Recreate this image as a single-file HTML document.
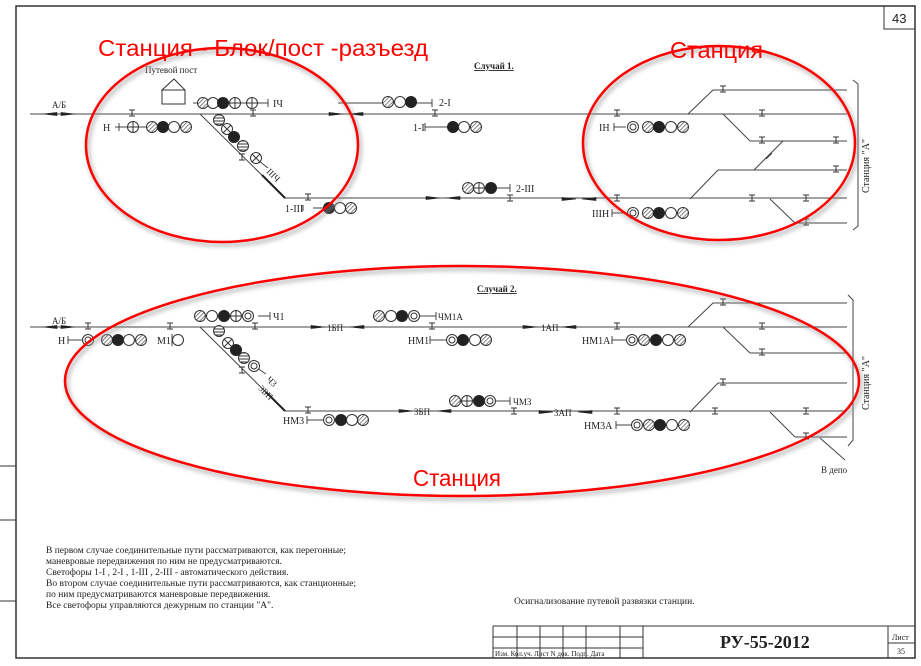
<!DOCTYPE html>
<html><head><meta charset="utf-8"><style>
html,body{margin:0;padding:0;background:#fff}
svg{display:block}
text{font-family:"Liberation Serif",serif;fill:#222}
.r{font-family:"Liberation Sans","DejaVu Sans",sans-serif;fill:#f00}
</style></head><body>
<svg width="921" height="666" viewBox="0 0 921 666" xmlns="http://www.w3.org/2000/svg">
<defs>
<pattern id="hp" width="3" height="3" patternUnits="userSpaceOnUse" patternTransform="rotate(45)"><rect width="3" height="3" fill="#fff"/><line x1="0" y1="0" x2="0" y2="3" stroke="#333" stroke-width="1.2"/></pattern>
<pattern id="sp" width="3" height="3" patternUnits="userSpaceOnUse"><rect width="3" height="3" fill="#fff"/><line x1="0" y1="1" x2="3" y2="1" stroke="#333" stroke-width="1"/></pattern>
<g id="h"><circle r="5.5" fill="url(#hp)" stroke="#333"/></g>
<g id="w"><circle r="5.5" fill="#fff" stroke="#333"/></g>
<g id="b"><circle r="5.5" fill="#222" stroke="#222"/></g>
<g id="p"><circle r="5.5" fill="#fff" stroke="#333"/><path d="M-5.5 0H5.5M0 -5.5V5.5" stroke="#333"/></g>
<g id="x"><circle r="5.5" fill="#fff" stroke="#333"/><path d="M-3.9 -3.9L3.9 3.9M-3.9 3.9L3.9 -3.9" stroke="#333"/></g>
<g id="d"><circle r="5.5" fill="#fff" stroke="#333"/><circle r="3" fill="#fff" stroke="#333"/></g>
<g id="s"><circle r="5.5" fill="url(#sp)" stroke="#333"/></g>
<g id="t"><path d="M-3 -4H3M0 -4V2M-3 2H3" stroke="#333" fill="none"/></g>
<g id="ar"><path d="M-14 0L0 0L-14 -1.6Z M-14 0L0 0L-14 1.6Z" fill="#222" stroke="#222" stroke-width="0.6"/></g>
<g id="al"><path d="M14 0L0 0L14 -1.6Z M14 0L0 0L14 1.6Z" fill="#222" stroke="#222" stroke-width="0.6"/></g>
<filter id="sh" x="-5%" y="-5%" width="110%" height="110%"><feGaussianBlur stdDeviation="2"/></filter>
</defs>

<!-- frame -->
<g stroke="#333" fill="none">
<rect x="16" y="6" width="899" height="652" stroke-width="1.5"/>
<rect x="884" y="6" width="31" height="23"/>
<path d="M0 466H16M0 520H16M0 601H16"/>
<path d="M493 626H915M493 637H643M493 648H643M493 626V658M517 626V658M540 626V658M563 626V658M586 626V658M620 626V658M643 626V658M888 626V658M888 643H915"/>
</g>
<text x="892" y="23" font-size="13" style="font-family:'Liberation Sans',sans-serif">43</text>
<text x="495" y="656" font-size="7">Изм. Кол.уч. Лист  N док.   Подп.   Дата</text>
<text x="720" y="648" font-size="18" font-weight="bold">РУ-55-2012</text>
<text x="892" y="640" font-size="8">Лист</text>
<text x="897" y="654" font-size="8">35</text>

<text x="474" y="69" font-size="9" font-weight="bold" text-decoration="underline">Случай 1.</text>
<text x="477" y="292" font-size="9" font-weight="bold" text-decoration="underline">Случай 2.</text>

<!-- ===== CASE 1 ===== -->
<g stroke="#444" fill="none" stroke-width="1">
<path d="M30 114H847"/>
<path d="M200 114L285 198H847"/>
<path d="M688 114L713 90H847M723 114L750 141H847M718 170H847M690 199L718 170M754 170L783 141M770 199L795 223H847"/>
<path d="M853 80L858 84V226L853 230"/>
<path d="M115 127H128M193 103H268M268 99V107M338 103H432M432 99V107M313 208H323M303 205V211M493 188H510M510 184V192M425 127H447M425 123V131M614 127H626M614 123V131M612 213H626M612 209V217M138 127H146"/>
<path d="M119 123V131M259 161L268 168"/>
</g>
<use href="#t" x="132" y="114"/><use href="#t" x="253" y="114"/><use href="#t" x="435" y="114"/><use href="#t" x="617" y="114"/>
<use href="#t" x="723" y="90"/><use href="#t" x="762" y="114"/><use href="#t" x="762" y="141"/><use href="#t" x="836" y="141"/><use href="#t" x="836" y="170"/>
<use href="#t" x="510" y="199"/><use href="#t" x="617" y="199"/><use href="#t" x="752" y="199"/><use href="#t" x="806" y="199"/><use href="#t" x="806" y="223"/><use href="#t" x="308" y="198"/><use href="#t" x="242" y="158"/>
<path d="M766 159L772 153" stroke="#333"/>
<use href="#ar" x="75" y="114"/><use href="#al" x="43" y="114"/>
<use href="#ar" x="343" y="114"/><use href="#al" x="349" y="114"/>
<use href="#ar" x="576" y="199"/><use href="#al" x="582" y="199"/>
<use href="#ar" x="440" y="198"/><use href="#al" x="446" y="198"/>
<path d="M262 175L285 198" stroke="#222" stroke-width="2"/>
<text x="52" y="108" font-size="9">А/Б</text>
<text x="145" y="73" font-size="9">Путевой пост</text>
<path d="M162 90V104H185V90H162L174 79L185 90" stroke="#333" fill="#fff"/>
<text x="103" y="131" font-size="10">Н</text>
<use href="#p" x="133" y="127"/><use href="#h" x="152" y="127"/><use href="#b" x="163" y="127"/><use href="#w" x="174" y="127"/><use href="#h" x="186" y="127"/>
<use href="#h" x="203" y="103"/><use href="#w" x="213" y="103"/><use href="#b" x="223" y="103"/><use href="#p" x="235" y="103"/><use href="#p" x="252" y="103"/>
<text x="273" y="107" font-size="10">IЧ</text>
<use href="#s" x="219" y="120"/><use href="#x" x="227" y="129"/><use href="#b" x="234" y="137"/><use href="#s" x="243" y="146"/><use href="#x" x="256" y="158"/>
<text x="266" y="172" font-size="9" transform="rotate(45 266 172)">IIIЧ</text>
<text x="285" y="212" font-size="10">1-III</text>
<use href="#b" x="329" y="208"/><use href="#w" x="340" y="208"/><use href="#h" x="351" y="208"/>
<use href="#h" x="388" y="102"/><use href="#w" x="400" y="102"/><use href="#b" x="411" y="102"/>
<text x="439" y="106" font-size="10">2-I</text>
<text x="413" y="131" font-size="10">1-I</text>
<use href="#b" x="453" y="127"/><use href="#w" x="464" y="127"/><use href="#h" x="476" y="127"/>
<use href="#h" x="468" y="188"/><use href="#p" x="479" y="188"/><use href="#b" x="491" y="188"/>
<text x="516" y="192" font-size="10">2-III</text>
<text x="599" y="131" font-size="10">IН</text>
<use href="#d" x="633" y="127"/><use href="#h" x="648" y="127"/><use href="#b" x="659" y="127"/><use href="#w" x="671" y="127"/><use href="#h" x="683" y="127"/>
<text x="592" y="217" font-size="10">IIIН</text>
<use href="#d" x="633" y="213"/><use href="#h" x="648" y="213"/><use href="#b" x="659" y="213"/><use href="#w" x="671" y="213"/><use href="#h" x="683" y="213"/>
<text x="869" y="193" font-size="10" transform="rotate(-90 869 193)">Станция "А"</text>

<!-- ===== CASE 2 ===== -->
<g stroke="#444" fill="none" stroke-width="1">
<path d="M30 327H847"/>
<path d="M200 327L285 411H847"/>
<path d="M688 327L713 303H847M723 327L750 353H847M690 412L718 383H847M770 412L795 437H847M820 438L845 460"/>
<path d="M848 295L853 300V440L848 446"/>
<path d="M68 340H82M68 336V344M172 334V346M258 316H270M270 312V320M420 316H436M436 312V320M430 340H446M430 336V344M612 340H626M612 336V344M496 401H510M510 397V405M616 425H631M616 421V429M307 420H323M307 416V424M257 368L266 374"/>
</g>
<use href="#t" x="88" y="327"/><use href="#t" x="170" y="327"/><use href="#t" x="255" y="327"/><use href="#t" x="432" y="327"/><use href="#t" x="617" y="327"/>
<use href="#t" x="723" y="303"/><use href="#t" x="762" y="327"/><use href="#t" x="762" y="353"/>
<use href="#t" x="723" y="383"/><use href="#t" x="514" y="412"/><use href="#t" x="617" y="412"/><use href="#t" x="715" y="412"/><use href="#t" x="806" y="412"/><use href="#t" x="806" y="437"/><use href="#t" x="308" y="411"/><use href="#t" x="242" y="371"/>
<use href="#ar" x="75" y="327"/><use href="#al" x="43" y="327"/>
<use href="#ar" x="325" y="327"/><use href="#al" x="350" y="327"/>
<use href="#ar" x="537" y="327"/><use href="#al" x="562" y="327"/>
<use href="#ar" x="413" y="411"/><use href="#al" x="437" y="411"/>
<use href="#ar" x="553" y="412"/><use href="#al" x="578" y="412"/>
<path d="M266 392L285 411" stroke="#222" stroke-width="2"/>
<text x="52" y="324" font-size="9">А/Б</text>
<text x="58" y="344" font-size="10">Н</text>
<use href="#d" x="88" y="340"/><use href="#h" x="107" y="340"/><use href="#b" x="118" y="340"/><use href="#w" x="129" y="340"/><use href="#h" x="141" y="340"/>
<text x="157" y="344" font-size="10">М1</text><use href="#w" x="178" y="340"/>
<use href="#h" x="200" y="316"/><use href="#w" x="212" y="316"/><use href="#b" x="224" y="316"/><use href="#p" x="236" y="316"/><use href="#d" x="248" y="316"/>
<text x="273" y="320" font-size="10">Ч1</text>
<use href="#s" x="219" y="331"/><use href="#x" x="228" y="343"/><use href="#b" x="236" y="350"/><use href="#s" x="244" y="358"/><use href="#d" x="254" y="366"/>
<text x="266" y="380" font-size="9" transform="rotate(45 266 380)">Ч3</text>
<text x="258" y="389" font-size="9" transform="rotate(45 258 389)">3БП</text>
<text x="327" y="331" font-size="9">1БП</text>
<text x="541" y="331" font-size="9">1АП</text>
<text x="414" y="415" font-size="9">3БП</text>
<text x="554" y="416" font-size="9">3АП</text>
<use href="#h" x="379" y="316"/><use href="#w" x="391" y="316"/><use href="#b" x="402" y="316"/><use href="#d" x="414" y="316"/>
<text x="438" y="320" font-size="9">ЧМ1А</text>
<text x="408" y="344" font-size="10">НМ1</text>
<use href="#d" x="452" y="340"/><use href="#b" x="463" y="340"/><use href="#w" x="475" y="340"/><use href="#h" x="486" y="340"/>
<text x="582" y="344" font-size="10">НМ1А</text>
<use href="#d" x="632" y="340"/><use href="#h" x="644" y="340"/><use href="#b" x="656" y="340"/><use href="#w" x="668" y="340"/><use href="#h" x="680" y="340"/>
<use href="#h" x="455" y="401"/><use href="#p" x="467" y="401"/><use href="#b" x="479" y="401"/><use href="#d" x="490" y="401"/>
<text x="513" y="405" font-size="9">ЧМ3</text>
<text x="584" y="429" font-size="10">НМ3А</text>
<use href="#d" x="637" y="425"/><use href="#h" x="649" y="425"/><use href="#b" x="660" y="425"/><use href="#w" x="672" y="425"/><use href="#h" x="684" y="425"/>
<text x="283" y="424" font-size="10">НМ3</text>
<use href="#d" x="329" y="420"/><use href="#b" x="341" y="420"/><use href="#w" x="352" y="420"/><use href="#h" x="363" y="420"/>
<text x="821" y="473" font-size="9">В депо</text>
<text x="869" y="410" font-size="10" transform="rotate(-90 869 410)">Станция "А"</text>

<!-- notes -->
<g font-size="9.5">
<text x="46" y="553">В первом случае соединительные пути рассматриваются, как перегонные;</text>
<text x="46" y="564">маневровые передвижения по ним не предусматриваются.</text>
<text x="46" y="575">Светофоры 1-I , 2-I , 1-III , 2-III - автоматического действия.</text>
<text x="46" y="586">Во втором случае соединительные пути рассматриваются, как станционные;</text>
<text x="46" y="597">по ним предусматриваются маневровые передвижения.</text>
<text x="46" y="608">Все светофоры управляются дежурным по станции "А".</text>
</g>
<text x="514" y="604" font-size="9.5">Осигнализование путевой развязки станции.</text>

<!-- red overlays -->
<g fill="none" stroke="#999" stroke-width="4" opacity="0.6" filter="url(#sh)" transform="translate(2,3)">
<ellipse cx="222" cy="145" rx="136" ry="97"/>
<ellipse cx="719" cy="143" rx="136" ry="97"/>
<ellipse cx="462" cy="381" rx="397" ry="115"/>
</g>
<g fill="none" stroke="#f00" stroke-width="2.5">
<ellipse cx="222" cy="145" rx="136" ry="97"/>
<ellipse cx="719" cy="143" rx="136" ry="97"/>
<ellipse cx="462" cy="381" rx="397" ry="115"/>
</g>
<text class="r" x="98" y="56" font-size="23" textLength="330" lengthAdjust="spacingAndGlyphs">Станция - Блок/пост -разъезд</text>
<text class="r" x="670" y="58" font-size="23" textLength="93" lengthAdjust="spacingAndGlyphs">Станция</text>
<text class="r" x="413" y="486" font-size="23" textLength="88" lengthAdjust="spacingAndGlyphs">Станция</text>
</svg>
</body></html>
